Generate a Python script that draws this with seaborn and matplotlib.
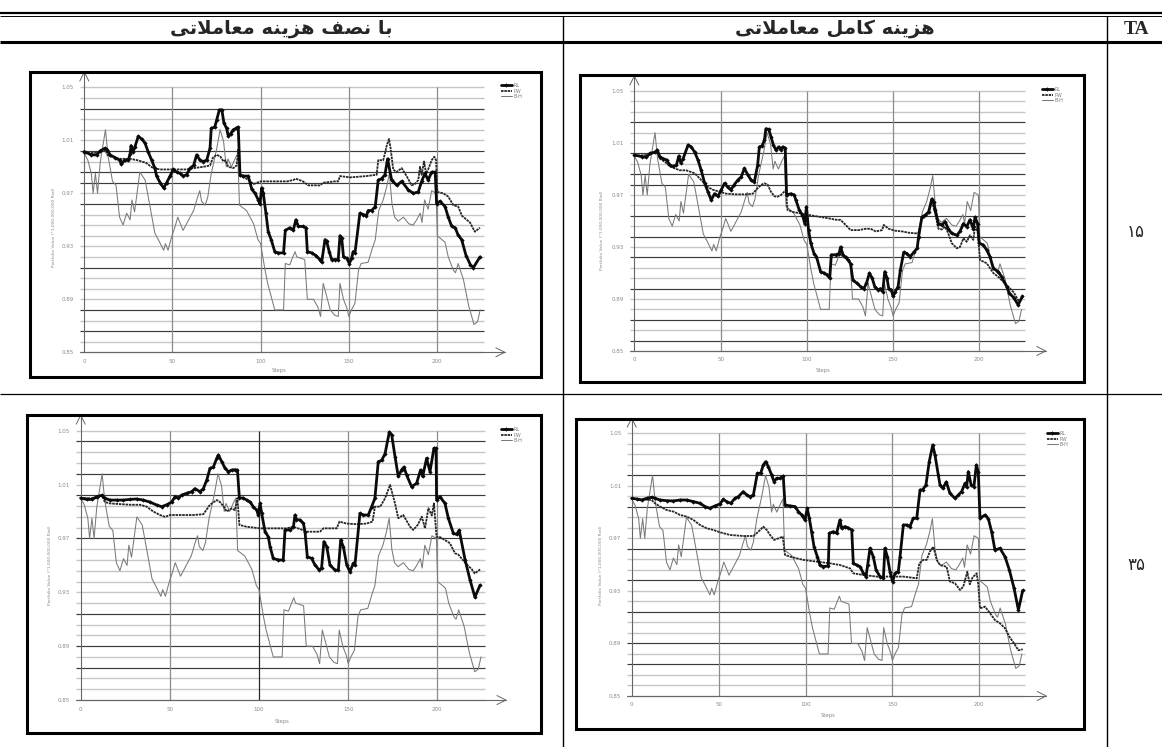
import matplotlib
matplotlib.use("Agg")
import matplotlib.pyplot as plt
import seaborn as sns
from matplotlib.patches import Rectangle
from matplotlib.lines import Line2D

sns.set_style("white")
plt.rcParams["font.family"] = ["DejaVu Sans"]

W, H = 1162, 747

# ---------------------------------------------------------------- data
# Buy-and-hold portfolio value (same market path in every panel): (step, value)
bh = [(0, 1.000), (2, 0.995), (4, 0.985), (5, 0.970), (6.3, 0.985), (7.5, 0.970), (9, 0.993),
      (12, 1.018), (13.5, 0.998), (16, 0.979), (18, 0.976), (20, 0.952), (22, 0.946), (24, 0.955),
      (26, 0.950), (27, 0.965), (28.5, 0.956), (31.5, 0.986), (34.5, 0.980), (37, 0.962),
      (40, 0.940), (42, 0.935), (45, 0.927), (46, 0.932), (47.5, 0.927), (49.5, 0.937),
      (51.5, 0.945), (53, 0.952), (56, 0.942), (58, 0.947), (60, 0.952), (62, 0.957), (64, 0.966),
      (65.5, 0.972), (66.5, 0.964), (68.5, 0.961), (70, 0.967), (72, 0.985), (75, 1.003),
      (77, 1.018), (79, 1.009), (80.5, 0.990), (81.5, 0.996), (83.5, 0.990), (85.5, 0.996),
      (87, 1.000), (88, 0.961), (92, 0.957), (96, 0.947), (98.5, 0.935), (100, 0.932),
      (102.5, 0.912), (104, 0.902), (107, 0.887), (108, 0.882), (113, 0.882), (114, 0.917),
      (116.5, 0.916), (119.5, 0.926), (120.5, 0.922), (125, 0.920), (126.5, 0.890), (130, 0.890),
      (132.5, 0.884), (134, 0.877), (135.5, 0.902), (137.5, 0.892), (139.5, 0.882), (142, 0.878),
      (144, 0.877), (145, 0.902), (147, 0.890), (149, 0.883), (150, 0.877), (151.5, 0.882),
      (153.5, 0.887), (155.5, 0.912), (157, 0.917), (161, 0.918), (163, 0.927), (165, 0.935),
      (167, 0.957), (169.5, 0.965), (171.5, 0.975), (173, 0.985), (174.5, 0.962), (176, 0.952),
      (178, 0.949), (181, 0.952), (184, 0.947), (186.5, 0.946), (188.5, 0.950), (190.5, 0.955),
      (191.5, 0.948), (193, 0.965), (195, 0.958), (197, 0.972), (199.5, 0.970), (200.2, 0.938),
      (204.6, 0.933), (206.4, 0.922), (209.3, 0.912), (210.5, 0.910), (212, 0.917), (215, 0.905),
      (218, 0.885), (221, 0.871), (223, 0.873), (224.5, 0.882)]

# TA = 15, half transaction cost
rl_15_half = [(0, 1.0015), (4, 0.999), (7, 0.999), (9, 1.002), (11.7, 1.004), (13, 1.003), (14.6, 0.999),
              (17.4, 0.997), (20, 0.995), (21, 0.992), (23, 0.995), (25, 0.995), (26, 1.0), (26.5, 1.006),
              (27.5, 1.001), (28.7, 1.005), (30.6, 1.013), (32.5, 1.011), (34.4, 1.008), (36.3, 1.001),
              (38.2, 0.995), (40, 0.989), (41, 0.983), (43, 0.978), (45, 0.974), (46.7, 0.978),
              (48.6, 0.983), (50.5, 0.988), (52.4, 0.986), (54.3, 0.985), (56, 0.983), (58, 0.984),
              (60, 0.989), (62, 0.991), (63.7, 0.999), (65.6, 0.995), (67.5, 0.994), (69.4, 0.995),
              (71.3, 1.004), (72, 1.019), (74, 1.02), (75, 1.025), (76.6, 1.033), (78, 1.033),
              (79.2, 1.023), (80.7, 1.019), (81.7, 1.013), (83, 1.015), (84.5, 1.018), (86, 1.019),
              (87.3, 1.02), (88.3, 0.984), (90, 0.983), (93, 0.983), (94, 0.978), (95, 0.973),
              (96.8, 0.97), (98.7, 0.965), (99.6, 0.962), (100.6, 0.974), (101.5, 0.97), (103, 0.955),
              (104.3, 0.941), (106, 0.935), (108, 0.926), (110, 0.925), (113, 0.925), (114, 0.942),
              (116.6, 0.944), (118.5, 0.942), (120, 0.95), (121.4, 0.945), (124, 0.945), (125.7, 0.944),
              (126.5, 0.926), (129, 0.925), (131.4, 0.923), (133.6, 0.92), (134.6, 0.918), (136.5, 0.935),
              (137.4, 0.934), (138.9, 0.926), (140.3, 0.92), (142, 0.92), (144, 0.92), (145, 0.938),
              (146, 0.936), (147, 0.922), (148.8, 0.921), (150.3, 0.917), (151.6, 0.921), (152.5, 0.926),
              (153.5, 0.925), (156.3, 0.955), (158.2, 0.954), (160, 0.953), (161, 0.957), (163, 0.957),
              (165, 0.96), (166.7, 0.98), (168.6, 0.981), (170.5, 0.984), (172, 0.996), (174.3, 0.98),
              (177.2, 0.976), (180, 0.979), (183.8, 0.9725), (186.6, 0.97), (189.4, 0.971), (191.3, 0.979),
              (193.2, 0.985), (195, 0.98), (197, 0.986), (199, 0.986), (199.8, 0.962), (201.7, 0.964),
              (204.6, 0.96), (206.4, 0.952), (208.4, 0.945), (210.3, 0.944), (212, 0.9385), (214, 0.935),
              (216.5, 0.923), (219, 0.916), (220.7, 0.914), (224.4, 0.922)]
pw_15_half = [(0, 1.0), (9, 1.001), (12, 1.003), (13, 0.999), (14.6, 0.998), (20, 0.996), (26, 0.996),
              (30, 0.995), (35, 0.993), (39, 0.989), (43, 0.988), (46.7, 0.988), (50.5, 0.988), (54, 0.988),
              (58, 0.988), (62, 0.989), (67.5, 0.990), (71.3, 0.991), (73, 0.997), (75, 0.999), (77, 0.998),
              (79, 0.994), (80, 0.995), (81.7, 0.990), (84.5, 0.989), (86.4, 0.991), (87.3, 1.003),
              (88.3, 0.983), (92, 0.981), (96, 0.977), (100, 0.979), (115, 0.979), (118.5, 0.980),
              (120, 0.981), (124, 0.979), (127, 0.976), (133.6, 0.976), (135.5, 0.978), (142, 0.979),
              (144, 0.979), (145, 0.983), (150.7, 0.982), (160, 0.983), (165.8, 0.984), (166.7, 0.995),
              (169.5, 0.995), (170.5, 1.0), (171.5, 1.006), (172.8, 1.011), (173.7, 1.004), (175.2, 0.988),
              (177, 0.986), (180, 0.989), (182.8, 0.983), (185.6, 0.976), (187.5, 0.977), (189.4, 0.980),
              (190.4, 0.990), (191.3, 0.984), (192.7, 0.994), (193.8, 0.985), (195, 0.988), (197, 0.995),
              (198.5, 0.9976), (199.5, 0.995), (200.2, 0.971), (203.6, 0.970), (206.4, 0.9675),
              (209.3, 0.961), (212, 0.960), (214.2, 0.953), (218.7, 0.948), (221.5, 0.941), (224.4, 0.944)]

# TA = 15, full transaction cost
rl_15_full = [(0, 1.0008), (4.2, 0.9995), (7, 0.999), (9, 1.002), (12, 1.003), (13.3, 1.0046), (14.8, 0.9995),
              (16.7, 0.998), (18.7, 0.997), (20.6, 0.993), (22.5, 0.992), (24.4, 0.993), (25.8, 1.0),
              (26.9, 0.995), (28.3, 0.998), (31.2, 1.0085), (33, 1.007), (35, 1.003), (36.9, 0.997),
              (38.8, 0.989), (40.8, 0.979), (42.7, 0.9725), (44.6, 0.966), (46.5, 0.971), (48.5, 0.969),
              (50.4, 0.974), (52.3, 0.979), (54.2, 0.976), (56, 0.974), (58, 0.978), (60, 0.9815),
              (62, 0.984), (63.8, 0.9905), (65.8, 0.9855), (67.7, 0.9815), (69.6, 0.980), (71.5, 0.993),
              (72.5, 1.007), (74, 1.0077), (75.4, 1.012), (76.3, 1.021), (77.9, 1.0205), (79.2, 1.015),
              (80.6, 1.0085), (82.1, 1.0046), (83.7, 1.007), (85, 1.0046), (86, 1.007), (87.5, 1.006),
              (88.3, 0.970), (90.8, 0.971), (92.7, 0.970), (93.7, 0.966), (95.6, 0.9585), (97.5, 0.9546),
              (98.8, 0.948), (99.8, 0.961), (101, 0.943), (102.3, 0.933), (104.2, 0.925), (105.6, 0.9226),
              (108, 0.911), (110, 0.910), (112, 0.9085), (113.3, 0.906), (114.2, 0.924), (116.7, 0.924),
              (118.7, 0.925), (119.6, 0.930), (121, 0.924), (122.5, 0.922), (124, 0.920), (125.4, 0.917),
              (126.7, 0.9046), (129.2, 0.902), (131.2, 0.8995), (133, 0.898), (134.6, 0.902), (136.3, 0.910),
              (137.9, 0.906), (139.4, 0.8995), (141.3, 0.897), (142.7, 0.898), (144, 0.8957), (145.2, 0.911),
              (146.5, 0.906), (147.5, 0.898), (149, 0.897), (150, 0.892), (151.3, 0.8957), (152.9, 0.8995),
              (154.2, 0.912), (156.2, 0.926), (158, 0.925), (160, 0.9226), (162, 0.926), (164, 0.929),
              (164.8, 0.938), (166.7, 0.953), (168.7, 0.9546), (170.6, 0.957), (172.5, 0.967), (173.5, 0.965),
              (174.4, 0.9585), (176.3, 0.948), (178.3, 0.947), (180.2, 0.9495), (182, 0.944), (184, 0.9405),
              (187, 0.939), (188.8, 0.942), (190.8, 0.948), (192.7, 0.9456), (194.6, 0.951), (196.5, 0.944),
              (197.5, 0.953), (199, 0.948), (200, 0.933), (202.3, 0.9315), (204.3, 0.9277), (206.2, 0.9225),
              (208.1, 0.9136), (211, 0.911), (213, 0.907), (215.9, 0.8995), (217.4, 0.8944), (220, 0.891),
              (222.5, 0.8855), (225, 0.892)]
pw_15_full = [(0, 1.0), (9, 1.001), (12, 1.003), (13.3, 1.003), (14.8, 0.998), (17.7, 0.9956), (20.6, 0.992),
              (23.5, 0.9905), (26.3, 0.989), (30, 0.989), (35, 0.9867), (38.8, 0.9815), (42.7, 0.976),
              (45.6, 0.974), (49.4, 0.9725), (53.3, 0.971), (59, 0.9705), (64.8, 0.9705), (68.7, 0.971),
              (70.6, 0.974), (73.5, 0.9777), (75.4, 0.979), (77.3, 0.978), (79.2, 0.9725), (81.2, 0.969),
              (83, 0.9687), (85, 0.970), (86.9, 0.9725), (87.9, 0.974), (88.8, 0.9585), (91.7, 0.957),
              (95.6, 0.956), (101.3, 0.9546), (107, 0.9533), (112.9, 0.952), (116.7, 0.951), (119.6, 0.9508),
              (122.5, 0.947), (125.4, 0.943), (130.2, 0.943), (134, 0.944), (137, 0.944), (140, 0.942),
              (143.7, 0.943), (144.6, 0.947), (147.5, 0.944), (151.3, 0.9425), (155.2, 0.942), (159, 0.941),
              (163, 0.9405), (164.6, 0.9405), (166.7, 0.952), (168.7, 0.953), (170.6, 0.956), (172.5, 0.965),
              (174.4, 0.956), (176.3, 0.944), (178.3, 0.9435), (180.2, 0.9456), (182, 0.9405), (184, 0.933),
              (187, 0.929), (188.8, 0.930), (190.8, 0.9367), (192.7, 0.934), (194.6, 0.939), (196.5, 0.9355),
              (197.5, 0.9456), (199, 0.942), (200.4, 0.920), (204.3, 0.9175), (208.1, 0.910), (211, 0.907),
              (213.9, 0.9033), (216.8, 0.8995), (220, 0.895), (223, 0.888), (225, 0.8915)]

# TA = 35, half transaction cost
rl_35_half = [(0, 1.0), (3.4, 0.999), (6.2, 0.999), (9, 1.001), (11.8, 1.002), (13.6, 0.9998), (16.4, 0.9985),
              (20.2, 0.9985), (24, 0.9985), (27.7, 0.999), (31.4, 0.9993), (35, 0.9985), (38.9, 0.997),
              (42.6, 0.9948), (45.4, 0.9936), (48.2, 0.995), (51, 0.997), (52.9, 1.001), (54.8, 1.0),
              (56.6, 1.0022), (59.4, 1.0035), (62.2, 1.0047), (64.1, 1.007), (66.9, 1.0047), (68.8, 1.007),
              (70.7, 1.0134), (72.5, 1.022), (74.4, 1.023), (76.3, 1.0295), (77.2, 1.032), (79.1, 1.027),
              (81, 1.022), (82.8, 1.0196), (84.7, 1.0208), (86.5, 1.021), (87.9, 1.0208), (89, 1.0),
              (91.2, 1.0), (93, 0.9985), (95, 0.997), (96.8, 0.9936), (98.7, 0.991), (99.6, 0.9874),
              (100.6, 0.996), (101.5, 0.9886), (103.4, 0.975), (105.2, 0.9713), (106.2, 0.9639),
              (108, 0.9552), (110.8, 0.954), (113.6, 0.954), (114.6, 0.9763), (117.4, 0.9763), (119.3, 0.9787),
              (120.2, 0.9874), (121, 0.984), (123, 0.9837), (124.9, 0.9812), (125.8, 0.975), (127.1, 0.9564),
              (129.5, 0.9552), (131.4, 0.9503), (133.8, 0.9465), (135.1, 0.948), (136.4, 0.9676),
              (138, 0.9639), (139.8, 0.9503), (142.6, 0.9465), (144.5, 0.9465), (145.8, 0.9688),
              (147.3, 0.9639), (149.2, 0.9503), (151, 0.9453), (152.9, 0.9515), (153.8, 0.950),
              (156.6, 0.9886), (158.5, 0.9874), (161.3, 0.9874), (163.2, 0.9936), (165, 0.9998),
              (166.9, 1.027), (168.8, 1.028), (170.7, 1.033), (173.1, 1.049), (174.4, 1.047), (176.3, 1.0307),
              (178.1, 1.016), (180, 1.021), (181.3, 1.023), (182.8, 1.017), (185.6, 1.0084), (188.4, 1.011),
              (190.6, 1.0208), (191.8, 1.016), (194, 1.0295), (195.9, 1.0196), (198.1, 1.037), (199.3, 1.037),
              (199.6, 0.9985), (201.5, 1.001), (204.3, 0.996), (206.2, 0.985), (209, 0.9738), (210.8, 0.973),
              (212.3, 0.976), (215.6, 0.954), (218.4, 0.939), (221.1, 0.9264), (224, 0.9353)]
pw_35_half = [(0, 1.0), (9, 0.9998), (11.8, 1.002), (13.6, 0.997), (16.4, 0.996), (22, 0.9955), (27.7, 0.995),
              (33.3, 0.995), (37, 0.9936), (40.7, 0.990), (44.5, 0.9874), (47.3, 0.986), (50, 0.9874),
              (55.7, 0.9874), (63.2, 0.9874), (68.8, 0.988), (72.5, 0.995), (76.3, 0.9985), (78.1, 0.997),
              (80, 0.994), (81.9, 0.990), (84.7, 0.9923), (86.5, 0.991), (87.9, 1.0), (89, 0.980),
              (93, 0.9787), (100.6, 0.9775), (108, 0.9775), (115.5, 0.9775), (119.3, 0.9787), (123, 0.977),
              (126.7, 0.975), (134.2, 0.975), (136.1, 0.9775), (143.6, 0.9775), (145.1, 0.9825),
              (149.2, 0.981), (154.6, 0.9806), (160.2, 0.981), (163.7, 0.9825), (165, 0.9936), (168, 0.9936),
              (170.7, 0.9998), (173.5, 1.0097), (176.3, 0.996), (178.1, 0.985), (180.9, 0.9874),
              (184.7, 0.9787), (186.5, 0.9763), (189, 0.980), (191.3, 0.9862), (193.1, 0.9775),
              (195, 0.9924), (196.9, 0.987), (198.1, 0.996), (199.6, 0.971), (201.5, 0.971), (204.3, 0.9688),
              (207.1, 0.9664), (209.9, 0.959), (211.8, 0.958), (215.6, 0.952), (219.4, 0.947), (221, 0.944),
              (224, 0.947)]

# TA = 35, full transaction cost
rl_35_full = [(0, 1.0005), (2.9, 1.0), (5.8, 0.9992), (8.6, 1.0005), (11.5, 1.0013), (13.4, 1.0005),
              (16.3, 0.9992), (20.1, 0.9987), (24, 0.9985), (27.8, 0.9992), (31.6, 0.9992), (35.5, 0.998),
              (39.3, 0.9967), (42.2, 0.9942), (45, 0.9929), (47.9, 0.9947), (50.8, 0.9962), (52.7, 0.9997),
              (54.6, 0.998), (57, 0.9967), (59.4, 1.0005), (61.4, 1.0018), (64.2, 1.0056), (66.2, 1.003),
              (68.1, 1.0018), (70, 1.003), (72.3, 1.0195), (74.2, 1.0195), (75.7, 1.0259), (77.1, 1.0284),
              (78.6, 1.0246), (80.5, 1.0183), (81.9, 1.0132), (83.4, 1.0157), (85.3, 1.0157), (87.2, 1.0175),
              (88.2, 0.9955), (91.1, 0.9947), (94, 0.9942), (95.9, 0.9904), (97.8, 0.9878), (99.7, 0.984),
              (101, 0.9929), (102.2, 0.9853), (103.5, 0.9751), (104.9, 0.9637), (106.8, 0.9561),
              (108.3, 0.9497), (110.3, 0.9485), (113.1, 0.949), (113.7, 0.9739), (116, 0.9751),
              (117.9, 0.9739), (119.8, 0.984), (120.8, 0.9777), (122.7, 0.979), (124.6, 0.978),
              (126.6, 0.9764), (127.5, 0.951), (129.4, 0.9497), (131.4, 0.9485), (133.3, 0.9434),
              (134.8, 0.9409), (135.8, 0.950), (137.1, 0.9624), (139, 0.9561), (140.6, 0.9459),
              (142.9, 0.9409), (144.8, 0.9396), (145.7, 0.9624), (147.1, 0.9561), (148.6, 0.9447),
              (150.1, 0.9371), (151.5, 0.9434), (153.4, 0.9447), (154.4, 0.9561), (156.3, 0.9802),
              (158.2, 0.9802), (160.1, 0.979), (162, 0.9853), (164, 0.9853), (165.9, 1.0069), (167.4, 1.0069),
              (169.3, 1.0107), (171.2, 1.0284), (173.2, 1.0411), (174.5, 1.0335), (176.4, 1.0183),
              (177.4, 1.0106), (179, 1.0081), (181, 1.013), (183.1, 1.0043), (186, 1.0005), (187.9, 1.003),
              (189.8, 1.0056), (191.8, 1.0119), (192.7, 1.009), (193.7, 1.0208), (195.3, 1.0107),
              (196.9, 1.0094), (198.3, 1.0259), (199.4, 1.0208), (200.4, 0.9853), (203.3, 0.9878),
              (205.2, 0.985), (207.1, 0.975), (209, 0.9611), (211.9, 0.9624), (214.8, 0.956), (217.3, 0.9459),
              (220, 0.932), (222.5, 0.9155), (225, 0.9304)]
pw_35_full = [(0, 1.0), (8.6, 0.9995), (11.5, 0.9992), (13.4, 0.9967), (16.3, 0.9942), (20.1, 0.9916),
              (24, 0.9904), (27.8, 0.9878), (31.6, 0.9866), (35.5, 0.984), (39.3, 0.9802), (43.1, 0.9777),
              (47, 0.9764), (50.8, 0.9746), (56.6, 0.9726), (64.2, 0.9718), (70, 0.9718), (72.9, 0.9751),
              (75.7, 0.9789), (77.7, 0.9764), (79.6, 0.9726), (81.9, 0.9688), (84.4, 0.970), (86.9, 0.9713),
              (88.2, 0.9574), (91.1, 0.9561), (98.8, 0.9536), (106.4, 0.9523), (114.1, 0.951),
              (119.8, 0.9497), (125.6, 0.9472), (127.5, 0.9434), (133.3, 0.9421), (140.9, 0.9409),
              (148.6, 0.9409), (156.3, 0.9409), (164, 0.9396), (165.5, 0.951), (167.8, 0.9536),
              (169.7, 0.9536), (171.6, 0.960), (173.6, 0.9637), (175.5, 0.9536), (177.4, 0.9497),
              (181.2, 0.9484), (183.1, 0.9371), (186, 0.9358), (188.9, 0.9307), (190.8, 0.9333),
              (193.1, 0.9446), (194.5, 0.935), (196, 0.940), (198.5, 0.9434), (199.4, 0.935), (200.4, 0.9167),
              (203.3, 0.918), (206.2, 0.913), (209, 0.9078), (211.9, 0.9053), (214.8, 0.9015),
              (217.3, 0.8951), (220, 0.890), (222.5, 0.8848), (225, 0.8855)]

series_names = ["RL", "PW", "B-H"]
y_ticks = [0.85, 0.89, 0.93, 0.97, 1.01, 1.05]
x_ticks = [0, 50, 100, 150, 200]
y_label = "Portfolio Value (*1,000,000,000 Rial)"
x_label = "Steps"
header_half = "با نصف هزینه معاملاتی"
header_full = "هزینه کامل معاملاتی"
header_ta = "TA"
ta_values = ["۱۵", "۳۵"]

# ------------------------------------------------- Persian glyph shaping
FORMS = {
    "\u0627": ("\uFE8D", "\uFE8E", None, None),
    "\u0628": ("\uFE8F", "\uFE90", "\uFE91", "\uFE92"),
    "\u062A": ("\uFE95", "\uFE96", "\uFE97", "\uFE98"),
    "\u0632": ("\uFEAF", "\uFEB0", None, None),
    "\u0635": ("\uFEB9", "\uFEBA", "\uFEBB", "\uFEBC"),
    "\u0639": ("\uFEC9", "\uFECA", "\uFECB", "\uFECC"),
    "\u0641": ("\uFED1", "\uFED2", "\uFED3", "\uFED4"),
    "\u0644": ("\uFEDD", "\uFEDE", "\uFEDF", "\uFEE0"),
    "\u0645": ("\uFEE1", "\uFEE2", "\uFEE3", "\uFEE4"),
    "\u0646": ("\uFEE5", "\uFEE6", "\uFEE7", "\uFEE8"),
    "\u0647": ("\uFEE9", "\uFEEA", "\uFEEB", "\uFEEC"),
    "\u06CC": ("\uFBFC", "\uFBFD", "\uFBFE", "\uFBFF"),
    "\u06A9": ("\uFB8E", "\uFB8F", "\uFB90", "\uFB91"),
}
LAM_ALEF = ("\uFEFB", "\uFEFC")


def shape_rtl(text):
    """Contextual letter forms + visual right-to-left order."""
    tokens, i = [], 0
    while i < len(text):
        if text[i] == "\u0644" and i + 1 < len(text) and text[i + 1] == "\u0627":
            tokens.append("LA")
            i += 2
        else:
            tokens.append(text[i])
            i += 1

    def joins_next(t):
        return t in FORMS and FORMS[t][2] is not None

    def is_letter(t):
        return t == "LA" or t in FORMS

    out = []
    for k, t in enumerate(tokens):
        prev = tokens[k - 1] if k > 0 else None
        nxt = tokens[k + 1] if k + 1 < len(tokens) else None
        cp = prev is not None and joins_next(prev)
        cn = joins_next(t) and nxt is not None and is_letter(nxt)
        if t == "LA":
            out.append(LAM_ALEF[1] if cp else LAM_ALEF[0])
        elif t in FORMS:
            iso, fin, ini, med = FORMS[t]
            out.append(med if (cp and cn) else fin if cp else ini if cn else iso)
        else:
            out.append(t)
    return "".join(reversed(out))


def fx(x):
    return x / W


def fy(y):
    return 1 - y / H


# ---------------------------------------------------------------- figure
fig = plt.figure(figsize=(W / 100, H / 100), dpi=100)
fig.patch.set_facecolor("white")


def hline_px(y, x0, x1, lw, color="black"):
    fig.add_artist(Line2D([fx(x0), fx(x1)], [fy(y), fy(y)], transform=fig.transFigure,
                          color=color, linewidth=lw, solid_capstyle="butt"))


def vline_px(x, y0, y1, lw, color="black"):
    fig.add_artist(Line2D([fx(x), fx(x)], [fy(y0), fy(y1)], transform=fig.transFigure,
                          color=color, linewidth=lw, solid_capstyle="butt"))


# table rules
hline_px(12.5, 0, W, 1.6)
hline_px(15.5, 0, W, 0.7)
hline_px(42.0, 0, W, 2.2)
hline_px(394.0, 0, W, 0.9)
vline_px(563, 15.5, H, 1.0)
vline_px(1107, 15.5, H, 1.0)

# header cells
fig.text(fx(281), fy(28.5), shape_rtl(header_half), ha="center", va="center",
         fontsize=14, fontweight="bold", family=["DejaVu Sans"])
fig.text(fx(835), fy(28.5), shape_rtl(header_full), ha="center", va="center",
         fontsize=14, fontweight="bold", family=["DejaVu Sans"])
fig.text(fx(1136), fy(29), header_ta, ha="center", va="center",
         fontsize=14, fontweight="bold", family=["Liberation Serif"])
fig.text(fx(1136), fy(232), ta_values[0], ha="center", va="center", fontsize=12,
         family=["DejaVu Sans"])
fig.text(fx(1136), fy(565), ta_values[1], ha="center", va="center", fontsize=12,
         family=["DejaVu Sans"])

# panel geometry (pixel mapping of the plotting area)
panels = [
    dict(rl=rl_15_half, pw=pw_15_half, x0=84.3, kx=1.7633, y105=87.3, ky=1325,
         frame=(30, 72, 541, 377), ylab=(54, 227), steps=(279, 371), legend=(501, 83),
         dark=[23, 19, 17, 16, 14, 8, 4, 2], dark_v=[]),
    dict(rl=rl_15_full, pw=pw_15_full, x0=634.3, kx=1.725, y105=91, ky=1300,
         frame=(580, 75, 1084, 382), ylab=(602, 230), steps=(823, 371), legend=(1042, 87),
         dark=[22, 19, 17, 16, 13, 11, 9, 6, 3, 1], dark_v=[]),
    dict(rl=rl_35_half, pw=pw_35_half, x0=80.7, kx=1.783, y105=430.7, ky=1346.7,
         frame=(27, 415, 541, 733), ylab=(50, 565), steps=(282, 721), legend=(501, 427),
         dark=[24, 21, 19, 15, 8, 5, 3], dark_v=[100]),
    dict(rl=rl_35_full, pw=pw_35_full, x0=631.7, kx=1.738, y105=433.3, ky=1313.3,
         frame=(576, 419, 1084, 729), ylab=(601, 565), steps=(828, 716), legend=(1047, 431),
         dark=[21, 18, 14, 11, 8, 5, 3], dark_v=[]),
]

XMIN, XMAX = -5.4, 245
YMIN, YMAX = 0.846, 1.066
GRID_END = 226.5
ARROW_X = 238.5
ARROW_Y = 1.0615
levels = [0.85 + 0.008 * k for k in range(26)]

for p in panels:
    l, t, r, b = p["frame"]
    fig.add_artist(Rectangle((fx(l), fy(b)), (r - l) / W, (b - t) / H, transform=fig.transFigure,
                             fill=False, edgecolor="black", linewidth=2.2))

    left = p["x0"] + XMIN * p["kx"]
    right = p["x0"] + XMAX * p["kx"]
    top = p["y105"] - (YMAX - 1.05) * p["ky"]
    bottom = p["y105"] + (1.05 - YMIN) * p["ky"]
    ax = fig.add_axes([fx(left), fy(bottom), (right - left) / W, (bottom - top) / H])
    ax.set_facecolor("none")
    for s in ax.spines.values():
        s.set_visible(False)
    ax.set_xlim(XMIN, XMAX)
    ax.set_ylim(YMIN, YMAX)

    # horizontal grid: light and dark rules
    light = [v for k, v in enumerate(levels) if k not in p["dark"]]
    dark = [v for k, v in enumerate(levels) if k in p["dark"]]
    ax.hlines(light, -2.5, GRID_END, colors="#c6c6c6", linewidth=1.0, zorder=1)
    ax.hlines(dark, -2.5, GRID_END, colors="#3a3a3a", linewidth=0.85, zorder=1)
    for xv in x_ticks[1:]:
        c = "#2a2a2a" if xv in p["dark_v"] else "#8c8c8c"
        ax.vlines(xv, 0.85, 1.05, colors=c, linewidth=0.9, zorder=1)

    # axes with open arrow heads
    ax.plot([0, 0], [0.85, ARROW_Y], color="#666666", linewidth=0.8, clip_on=False, zorder=2)
    ax.plot([-2.5, ARROW_X], [0.85, 0.85], color="#666666", linewidth=0.8, clip_on=False, zorder=2)
    dxs, dys = 4.5 / p["kx"], 9 / p["ky"]
    ax.plot([-dxs, 0, dxs], [ARROW_Y - dys, ARROW_Y, ARROW_Y - dys], color="#666666",
            linewidth=0.7, clip_on=False)
    dxs2, dys2 = 9 / p["kx"], 4.5 / p["ky"]
    ax.plot([ARROW_X - dxs2, ARROW_X, ARROW_X - dxs2], [0.85 + dys2, 0.85, 0.85 - dys2],
            color="#666666", linewidth=0.7, clip_on=False)

    # the three portfolio series
    bx, bv = zip(*bh)
    px_, pv = zip(*p["pw"])
    rx, rv = zip(*p["rl"])
    sns.lineplot(x=list(bx), y=list(bv), ax=ax, color="#7a7a7a", linewidth=0.75,
                 estimator=None, sort=False, label=series_names[2], zorder=3)
    sns.lineplot(x=list(px_), y=list(pv), ax=ax, color="#262626", linewidth=1.3,
                 linestyle=(0, (1.4, 0.45)), estimator=None, sort=False,
                 label=series_names[1], zorder=4)
    sns.lineplot(x=list(rx), y=list(rv), ax=ax, color="#0a0a0a", linewidth=2.0,
                 marker="D", markersize=2.2, markeredgewidth=0, estimator=None, sort=False,
                 label=series_names[0], zorder=5)

    ax.set_xlabel("")
    ax.set_ylabel("")
    ax.set_xticks(x_ticks)
    ax.set_xticklabels([str(v) for v in x_ticks])
    ax.set_yticks(y_ticks)
    ax.set_yticklabels([f"{v:.2f}" for v in y_ticks])
    ax.tick_params(axis="both", length=0, labelsize=4, labelcolor="#8a8a8a", pad=0.8)

    handles, labels = ax.get_legend_handles_labels()
    order = [labels.index(n) for n in series_names]
    ax.legend([handles[i] for i in order], [labels[i] for i in order],
              loc="upper left", bbox_to_anchor=(fx(p["legend"][0]), fy(p["legend"][1])),
              bbox_transform=fig.transFigure, fontsize=3.5, frameon=False, handlelength=2.2,
              handletextpad=0.4, labelspacing=0.12, borderpad=0, borderaxespad=0,
              labelcolor="#7a7a7a")

    fig.text(fx(p["ylab"][0]), fy(p["ylab"][1]), y_label, rotation=90, ha="center",
             va="center", fontsize=3.2, color="#8a8a8a")
    fig.text(fx(p["steps"][0]), fy(p["steps"][1]), x_label, ha="center", va="center",
             fontsize=3.8, color="#8a8a8a")

fig.savefig("out.png", dpi=100, facecolor="white")
